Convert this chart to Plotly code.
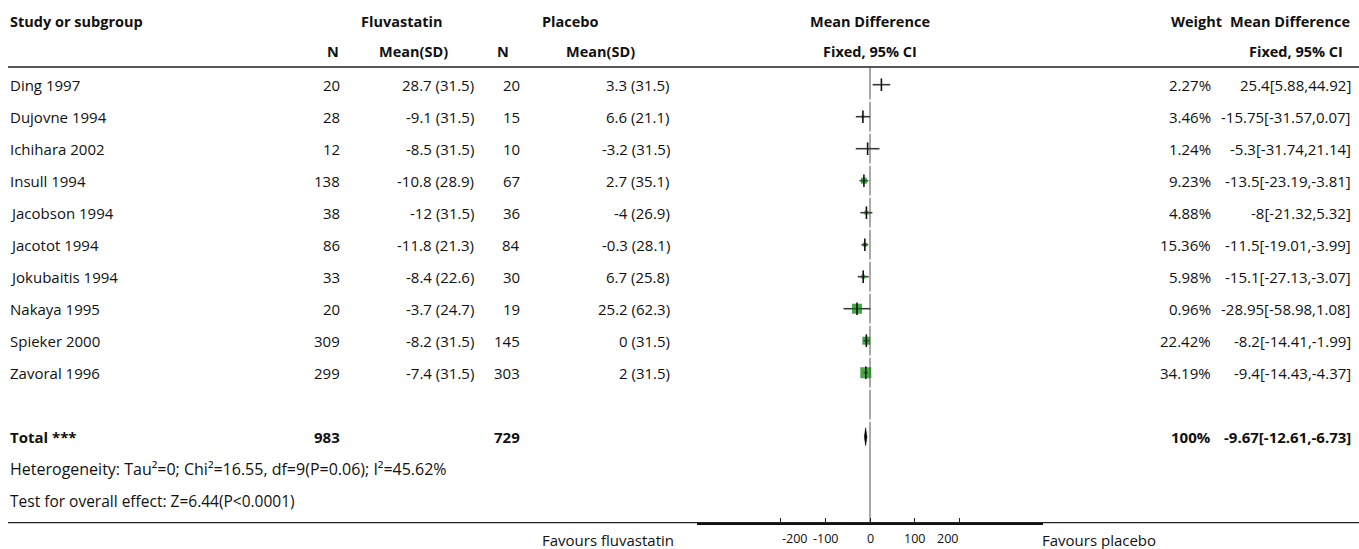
import plotly.graph_objects as go

# ---------------- data ----------------
studies = ["Ding 1997", "Dujovne 1994", "Ichihara 2002", "Insull 1994", "Jacobson 1994",
           "Jacotot 1994", "Jokubaitis 1994", "Nakaya 1995", "Spieker 2000", "Zavoral 1996"]
n_fluva = [20, 28, 12, 138, 38, 86, 33, 20, 309, 299]
mean_fluva = [28.7, -9.1, -8.5, -10.8, -12, -11.8, -8.4, -3.7, -8.2, -7.4]
sd_fluva = [31.5, 31.5, 31.5, 28.9, 31.5, 21.3, 22.6, 24.7, 31.5, 31.5]
n_plac = [20, 15, 10, 67, 36, 84, 30, 19, 145, 303]
mean_plac = [3.3, 6.6, -3.2, 2.7, -4, -0.3, 6.7, 25.2, 0, 2]
sd_plac = [31.5, 21.1, 31.5, 35.1, 26.9, 28.1, 25.8, 62.3, 31.5, 31.5]
weight = [2.27, 3.46, 1.24, 9.23, 4.88, 15.36, 5.98, 0.96, 22.42, 34.19]
md = [25.4, -15.75, -5.3, -13.5, -8, -11.5, -15.1, -28.95, -8.2, -9.4]
ci_lo = [5.88, -31.57, -31.74, -23.19, -21.32, -19.01, -27.13, -58.98, -14.41, -14.43]
ci_hi = [44.92, 0.07, 21.14, -3.81, 5.32, -3.99, -3.07, 1.08, -1.99, -4.37]

total_n_fluva = 983
total_n_plac = 729
total_weight = 100
total_md = -9.67
total_lo = -12.61
total_hi = -6.73

heterogeneity = "Heterogeneity: Tau²=0; Chi²=16.55, df=9(P=0.06); I²=45.62%"
overall = "Test for overall effect: Z=6.44(P<0.0001)"
tick_vals = [-200, -100, 0, 100, 200]
tick_text = ["-200", "-100", "0", "100", "200"]

# ---------------- styles ----------------
W, H = 1359, 549
FONT = "Open Sans"
FS = 15
FS_HEAD = 14.5
TXT = "#111111"
GREEN = "#008000"
box_px = [0, 3, 0, 6, 4, 4, 4, 10, 8, 11]   # marker sizes as drawn in the reference

ROW0_PX, ROW_H = 84.7, 32.0
AXIS_PX = 522.7
y_top = -ROW0_PX / ROW_H
y_bot = (AXIS_PX - ROW0_PX) / ROW_H

def xp(px):
    return px / W

def yp(px):
    return 1 - px / H

rows = list(range(len(studies)))
r_blank = len(studies)
r_total = r_blank + 1
r_het = r_total + 1
r_test = r_het + 1

fig = go.Figure()

# zero line segments (row by row, with small gaps as in the reference)
zx, zy = [], []
g = 0.035
for r in rows + [r_blank]:
    top = r - 0.5 + g if r > 0 else -0.55
    zx += [0, 0, None]
    zy += [top, r + 0.5 - g, None]
zx += [0, 0]
zy += [r_blank + 0.5 + g, y_bot]
fig.add_trace(go.Scatter(x=zx, y=zy, mode="lines", line=dict(color="#8c8c8c", width=1.5),
                         hoverinfo="skip", showlegend=False))

# CI lines
cx, cy = [], []
for r, lo, hi in zip(rows, ci_lo, ci_hi):
    cx += [lo, hi, None]
    cy += [r, r, None]
fig.add_trace(go.Scatter(x=cx, y=cy, mode="lines", line=dict(color="#3a3a3a", width=1.6),
                         hoverinfo="skip", showlegend=False))

# weight boxes
fig.add_trace(go.Scatter(x=md, y=rows, mode="markers",
                         marker=dict(symbol="square", size=box_px, color=GREEN, line=dict(width=0)),
                         hoverinfo="skip", showlegend=False))

# point estimate ticks
fig.add_trace(go.Scatter(x=md, y=rows, mode="markers",
                         marker=dict(symbol="line-ns", size=9, line=dict(color="#111111", width=1.6)),
                         hoverinfo="skip", showlegend=False))

# total diamond
dh = 0.28
fig.add_trace(go.Scatter(x=[total_lo, total_md, total_hi, total_md, total_lo],
                         y=[r_total, r_total - dh, r_total, r_total + dh, r_total],
                         mode="lines", fill="toself", fillcolor="#000000",
                         line=dict(color="#000000", width=0.5),
                         hoverinfo="skip", showlegend=False))

ann = []

def add(text, x, y, anchor, bold=False, yref="y", size=None):
    if size is None:
        size = FS_HEAD if bold else FS
    t = f"<b>{text}</b>" if bold else text
    ann.append(dict(text=t, x=x, y=y, xref="paper", yref=yref, xanchor=anchor, yanchor="middle",
                    showarrow=False, font=dict(family=FONT, size=size, color=TXT)))

# headers
add("Study or subgroup", xp(8), -1.97, "left", True)
add("Fluvastatin", xp(401), -1.97, "center", True)
add("Placebo", xp(570), -1.97, "center", True)
add("Mean Difference", xp(870), -1.97, "center", True)
add("Weight", xp(1196), -1.97, "center", True)
add("Mean Difference", xp(1290), -1.97, "center", True)
add("N", xp(333), -1.03, "center", True)
add("Mean(SD)", xp(413), -1.03, "center", True)
add("N", xp(503), -1.03, "center", True)
add("Mean(SD)", xp(600), -1.03, "center", True)
add("Fixed, 95% CI", xp(870), -1.03, "center", True)
add("Fixed, 95% CI", xp(1296), -1.03, "center", True)

for r in rows:
    add(studies[r], xp(8), r, "left")
    add(f"{n_fluva[r]}", xp(342), r, "right")
    add(f"{mean_fluva[r]:g} ({sd_fluva[r]:g})", xp(476), r, "right")
    add(f"{n_plac[r]}", xp(522), r, "right")
    add(f"{mean_plac[r]:g} ({sd_plac[r]:g})", xp(672), r, "right")
    add(f"{weight[r]:g}%", xp(1213), r, "right")
    add(f"{md[r]:g}[{ci_lo[r]:g},{ci_hi[r]:g}]", xp(1353), r, "right")

add("Total ***", xp(8), r_total, "left", True, size=FS)
add(f"{total_n_fluva}", xp(342), r_total, "right", True, size=FS)
add(f"{total_n_plac}", xp(522), r_total, "right", True, size=FS)
add(f"{total_weight:g}%", xp(1213), r_total, "right", True, size=FS)
add(f"{total_md:g}[{total_lo:g},{total_hi:g}]", xp(1353), r_total, "right", True, size=FS)
add(heterogeneity, xp(8), r_het, "left", size=16)
add(overall, xp(8), r_test, "left", size=15.5)

# footer labels
add("Favours fluvastatin", xp(676), yp(539.5), "right", yref="paper")
add("Favours placebo", xp(1040), yp(539.5), "left", yref="paper")

# tick labels
tick_shift = {-200: 14, 200: -12}
for v, t in zip(tick_vals, tick_text):
    ann.append(dict(text=t, x=v, y=yp(538), xref="x", yref="paper", xanchor="center", yanchor="middle",
                    xshift=tick_shift.get(v, 0), showarrow=False,
                    font=dict(family=FONT, size=12.5, color=TXT)))

shapes = [
    dict(type="line", xref="paper", yref="paper", x0=xp(8), x1=1, y0=yp(67), y1=yp(67),
         line=dict(color="#222222", width=1.5)),
    dict(type="line", xref="paper", yref="paper", x0=xp(8), x1=1, y0=yp(AXIS_PX), y1=yp(AXIS_PX),
         line=dict(color="#222222", width=1.3)),
]

fig.update_layout(
    width=W, height=H, margin=dict(l=0, r=0, t=0, b=0),
    paper_bgcolor="white", plot_bgcolor="white",
    annotations=ann, shapes=shapes, showlegend=False,
    xaxis=dict(domain=[xp(697), xp(1043)], range=[-385, 385], showgrid=False, zeroline=False,
               tickvals=tick_vals, ticks="inside", ticklen=5, tickwidth=1.2, tickcolor="#222222",
               showticklabels=False, showline=True, linecolor="#111111", linewidth=2,
               fixedrange=True),
    yaxis=dict(domain=[yp(AXIS_PX), 1], range=[y_bot, y_top], visible=False, fixedrange=True),
)

fig.write_html(
    "out.html",
    config={"displayModeBar": False},
    post_script="document.body.style.margin='0';document.body.style.overflow='hidden';"
                "document.documentElement.style.overflow='hidden';",
)
